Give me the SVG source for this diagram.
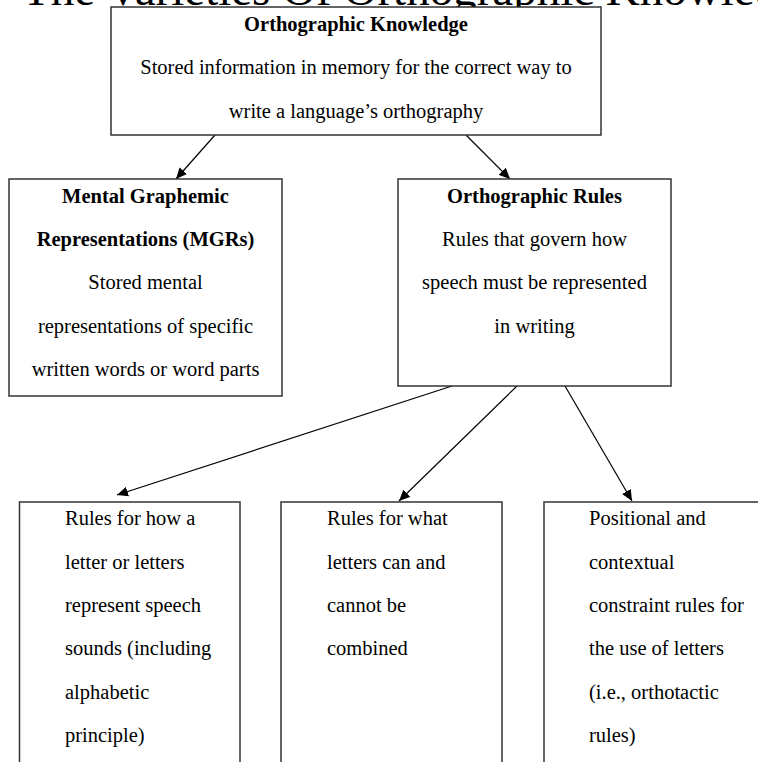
<svg xmlns="http://www.w3.org/2000/svg" width="758" height="762" viewBox="0 0 758 762">
<defs>
<style>
.box{fill:#fff;stroke:#333;stroke-width:1.5}
.t{font-family:"Liberation Serif","Times New Roman",serif;font-size:20.5px;fill:#000}
.c{text-anchor:middle}
.b{font-weight:bold}
.ln{stroke:#000;stroke-width:1.2;fill:none}
</style>
<marker id="ah" markerUnits="userSpaceOnUse" markerWidth="12" markerHeight="10" refX="11" refY="5" orient="auto">
<path d="M0,0 L11,5 L0,10 Z" fill="#000"/>
</marker>
</defs>
<rect width="758" height="762" fill="#fff"/>
<text x="22" y="5" font-family="Liberation Serif, serif" font-size="47" fill="#000">The Varieties Of Orthographic Knowledge</text>

<g id="connectors">
<line class="ln" x1="215" y1="135" x2="176" y2="179" marker-end="url(#ah)"/>
<line class="ln" x1="466" y1="135" x2="510" y2="179" marker-end="url(#ah)"/>
<line class="ln" x1="452" y1="386" x2="117" y2="495" marker-end="url(#ah)"/>
<line class="ln" x1="517" y1="386" x2="399" y2="501" marker-end="url(#ah)"/>
<line class="ln" x1="565" y1="386" x2="632" y2="501" marker-end="url(#ah)"/>
</g>

<g id="orthographic-knowledge">
<rect class="box" x="111" y="7" width="490" height="128"/>
<text class="t c b" x="356" y="31">Orthographic Knowledge</text>
<text class="t c" x="356" y="74">Stored information in memory for the correct way to</text>
<text class="t c" x="356" y="118">write a language’s orthography</text>
</g>

<g id="mgr">
<rect class="box" x="9" y="179" width="273" height="217"/>
<text class="t c b" x="145.5" y="203">Mental Graphemic</text>
<text class="t c b" x="145.5" y="246">Representations (MGRs)</text>
<text class="t c" x="145.5" y="289">Stored mental</text>
<text class="t c" x="145.5" y="333">representations of specific</text>
<text class="t c" x="145.5" y="376">written words or word parts</text>
</g>

<g id="orthographic-rules">
<rect class="box" x="398" y="179" width="273" height="207"/>
<text class="t c b" x="534.5" y="203">Orthographic Rules</text>
<text class="t c" x="534.5" y="246">Rules that govern how</text>
<text class="t c" x="534.5" y="289">speech must be represented</text>
<text class="t c" x="534.5" y="333">in writing</text>
</g>

<g id="rules-sounds">
<rect class="box" x="19.5" y="502" width="220.5" height="270"/>
<text class="t" x="65" y="525">Rules for how a</text>
<text class="t" x="65" y="569">letter or letters</text>
<text class="t" x="65" y="612">represent speech</text>
<text class="t" x="65" y="655">sounds (including</text>
<text class="t" x="65" y="699">alphabetic</text>
<text class="t" x="65" y="742">principle)</text>
</g>

<g id="rules-combined">
<rect class="box" x="281" y="502" width="221" height="270"/>
<text class="t" x="327" y="525">Rules for what</text>
<text class="t" x="327" y="569">letters can and</text>
<text class="t" x="327" y="612">cannot be</text>
<text class="t" x="327" y="655">combined</text>
</g>

<g id="rules-positional">
<rect class="box" x="544" y="502" width="230" height="270"/>
<text class="t" x="589" y="525">Positional and</text>
<text class="t" x="589" y="569">contextual</text>
<text class="t" x="589" y="612">constraint rules for</text>
<text class="t" x="589" y="655">the use of letters</text>
<text class="t" x="589" y="699">(i.e., orthotactic</text>
<text class="t" x="589" y="742">rules)</text>
</g>
</svg>
